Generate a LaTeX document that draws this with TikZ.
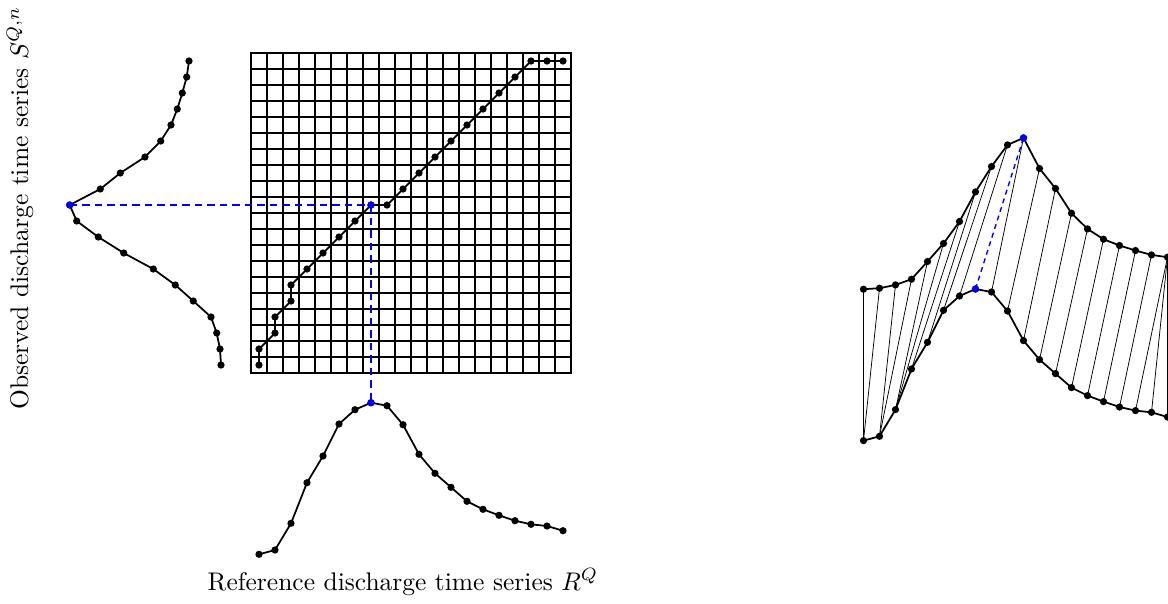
\documentclass[tikz,border=0pt]{standalone}
\begin{document}
\begin{tikzpicture}[x=0.4pt,y=-0.4pt,
  gridline/.style={line width=0.5pt,black},
  gridframe/.style={line width=0.8pt,black},
  curve/.style={line width=0.7pt,black},
  link/.style={line width=0.3pt,black},
  bluedash/.style={line width=0.8pt,blue,dash pattern=on 3pt off 2pt},
  bluedashthin/.style={line width=0.55pt,blue,dash pattern=on 2pt off 1.6pt},
  dot/.style={black},
  bdot/.style={blue}]
\useasboundingbox (0,0) rectangle (1168,603);

% observed series S (left, vertical) and its copy (upper right)
\foreach \v [count=\j from 0] in {221,220,216.7,211,193.3,175.3,153.3,123.7,98.3,76.7,69.7,100.3,120.3,145,160.7,171,177.3,182.3,186.7,189}{
  \coordinate (s\j) at ({\v},{365-16*\j});
  \coordinate (u\j) at ({863.5+16*\j},{\v+68.2});
}
% reference series R (bottom) and its copy (lower right)
\foreach \v [count=\j from 0] in {554.3,550,523.3,482.7,456,424,409.7,402.7,405.7,424.7,454.3,473.3,487.3,501.3,509.3,515.3,520.7,524.3,526,530.7}{
  \coordinate (r\j) at ({259+16*\j},{\v});
  \coordinate (l\j) at ({863.5+16*\j},{\v-113.7});
}
% warping path cells
\foreach \c/\r [count=\k from 0] in {0/0,0/1,1/2,1/3,2/4,2/5,3/6,4/7,5/8,6/9,7/10,8/10,9/11,10/12,11/13,12/14,13/15,14/16,15/17,16/18,17/19,18/19,19/19}{
  \coordinate (p\k) at ({259+16*\c},{365-16*\r});
}

% grid
\foreach \k in {1,...,19}{
  \draw[gridline] ({251+16*\k},53) -- ({251+16*\k},373);
  \draw[gridline] (251,{53+16*\k}) -- (571,{53+16*\k});
}
\draw[gridframe] (251,53) rectangle (571,373);

% blue dashed guides
\draw[bluedash] (s10) -- (p10);
\draw[bluedash] (p10) -- (r7);

% right: alignment links
\foreach \c/\r in {0/0,0/1,1/2,1/3,2/4,2/5,3/6,4/7,5/8,6/9,8/10,9/11,10/12,11/13,12/14,13/15,14/16,15/17,16/18,17/19,18/19,19/19}{
  \draw[link] (l\c) -- (u\r);
}
\draw[bluedashthin] (l7) -- (u10);

% curves
\draw[curve] (s0) \foreach \j in {1,...,19}{ -- (s\j)};
\draw[curve] (r0) \foreach \j in {1,...,19}{ -- (r\j)};
\draw[curve] (u0) \foreach \j in {1,...,19}{ -- (u\j)};
\draw[curve] (l0) \foreach \j in {1,...,19}{ -- (l\j)};
\draw[curve] (p0) \foreach \k in {1,...,22}{ -- (p\k)};

% dots
\foreach \j in {0,...,19}{
  \fill[dot] (s\j) circle[radius=1.45pt];
  \fill[dot] (r\j) circle[radius=1.45pt];
  \fill[dot] (u\j) circle[radius=1.45pt];
  \fill[dot] (l\j) circle[radius=1.45pt];
}
\foreach \k in {0,...,22}{
  \fill[dot] (p\k) circle[radius=1.45pt];
}
\fill[bdot] (s10) circle[radius=1.45pt];
\fill[bdot] (r7) circle[radius=1.45pt];
\fill[bdot] (p10) circle[radius=1.45pt];
\fill[bdot] (u10) circle[radius=1.45pt];
\fill[bdot] (l7) circle[radius=1.45pt];

% labels
\node[rotate=90,inner sep=0pt,scale=1.02] (ylab) at (20,208) {Observed discharge time series $S^{Q,n}$};
\node[inner sep=0pt,scale=1.02] (xlab) at (403,582) {Reference discharge time series $R^Q$};
\end{tikzpicture}
\end{document}
